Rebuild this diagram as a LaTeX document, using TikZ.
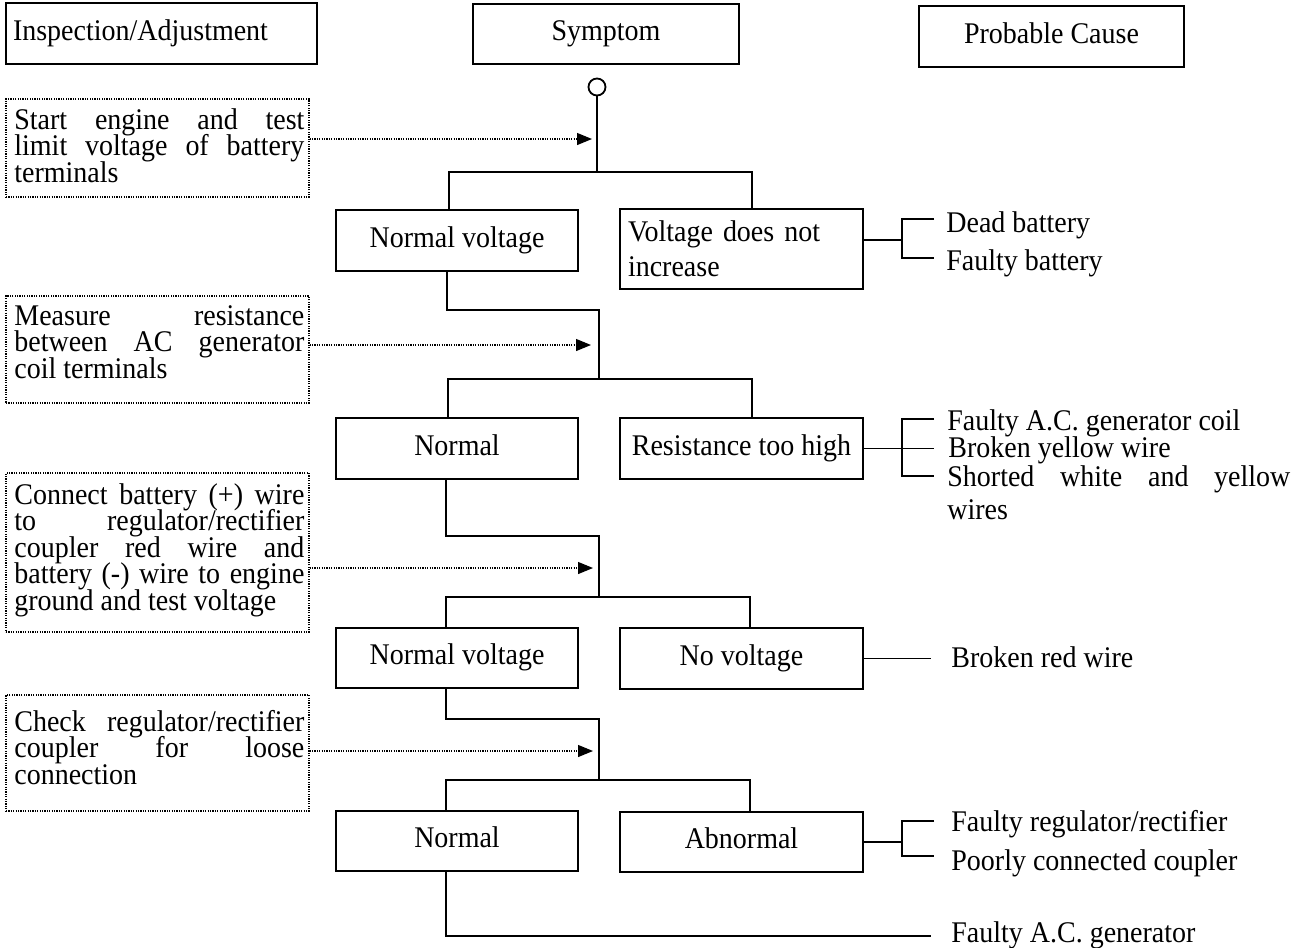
\documentclass[tikz,border=0pt]{standalone}
\usepackage{fontspec}
\setmainfont{Liberation Serif}[FakeStretch=0.933]
\usetikzlibrary{arrows.meta}
\newcommand\myfs{\fontsize{15pt}{13.25pt}\selectfont\lineskiplimit=-20pt}
\newcommand\jl[1]{\makebox[145pt][s]{#1}}
\newcommand\fstrut{\rule{0pt}{11pt}}
\begin{document}
\begin{tikzpicture}[x=0.5pt,y=-0.5pt,
  every node/.style={font=\myfs},
  sbox/.style={draw, line width=0.9pt, inner sep=0pt, text height=9.6pt, text depth=3pt},
  dbox/.style={draw, line width=0.6pt, dash pattern=on 0.6pt off 0.6pt, inner sep=0pt},
  itext/.style={anchor=north west, inner sep=0pt, align=left},
  ctext/.style={anchor=base west, inner sep=0pt},
  link/.style={line width=0.9pt},
  arr/.style={line width=0.6pt, dash pattern=on 0.6pt off 0.6pt, -{Triangle[length=7.5pt,width=6pt]}}]
\useasboundingbox (0,0) rectangle (1308,948);
% headers
\node[sbox, text width=148.5pt, inner xsep=3.5pt, align=left, minimum height=30.5pt] (hia) at (161.5,33.5) {Inspection/Adjustment};
\node[sbox, minimum width=133pt, minimum height=30pt] (hs) at (606,34) {Symptom};
\node[sbox, minimum width=132.5pt, minimum height=30.5pt] (hpc) at (1051.5,36.5) {Probable Cause};
\node[draw, circle, line width=0.9pt, minimum size=8.5pt, inner sep=0pt] (start) at (597,87) {};
% inspection boxes
\node[dbox, minimum width=151.5pt, minimum height=49pt] (d1) at (157.5,148) {};
\node[itext] (d1t) at (14,107) {\fstrut\jl{Start engine and test}\\\jl{limit voltage of battery}\\terminals};
\node[dbox, minimum width=151.5pt, minimum height=53.5pt] (d2) at (157.5,349.5) {};
\node[itext] (d2t) at (14,303) {\fstrut\jl{Measure resistance}\\\jl{between AC generator}\\coil terminals};
\node[dbox, minimum width=151.5pt, minimum height=79.5pt] (d3) at (157.5,552.5) {};
\node[itext] (d3t) at (14,482) {\fstrut\jl{Connect battery (+) wire}\\\jl{to regulator/rectifier}\\\jl{coupler red wire and}\\\jl{battery (-) wire to engine}\\ground and test voltage};
\node[dbox, minimum width=151.5pt, minimum height=58pt] (d4) at (157.5,753) {};
\node[itext] (d4t) at (14,709) {\fstrut\jl{Check regulator/rectifier}\\\jl{coupler for loose}\\connection};
% symptom boxes
\node[sbox, minimum width=121pt, minimum height=30.5pt] (nv1) at (457,240.5) {Normal voltage};
\node[draw, line width=0.9pt, inner xsep=4pt, inner ysep=0pt, text width=113.5pt, align=left, minimum height=40pt, font=\fontsize{15pt}{17.5pt}\selectfont] (vd) at (741.5,249) {Voltage does not\\increase};
\node[sbox, minimum width=121pt, minimum height=30.5pt] (n2) at (457,448.5) {Normal};
\node[sbox, minimum width=121.5pt, minimum height=30.5pt] (rh) at (741.5,448.5) {Resistance too high};
\node[sbox, minimum width=121pt, minimum height=30pt] (nv3) at (457,658) {Normal voltage};
\node[sbox, minimum width=121.5pt, minimum height=30.5pt] (nov) at (741.5,658.5) {No voltage};
\node[sbox, minimum width=121pt, minimum height=30pt] (n4) at (457,841) {Normal};
\node[sbox, minimum width=121.5pt, minimum height=30pt] (ab) at (741.5,842) {Abnormal};
% causes
\node[ctext] (db) at (946,232) {Dead battery};
\node[ctext] (fb) at (946,270) {Faulty battery};
\node[ctext] (fgc) at (947,430) {Faulty A.C. generator coil};
\node[ctext] (byw) at (948,457) {Broken yellow wire};
\node[itext, font=\fontsize{15pt}{16.5pt}\selectfont] (swy) at (947,464) {\fstrut\makebox[171.5pt][s]{Shorted white and yellow}\\wires};
\node[ctext] (brw) at (951,667) {Broken red wire};
\node[ctext] (frr) at (951,831) {Faulty regulator/rectifier};
\node[ctext] (pcc) at (951,870) {Poorly connected coupler};
\node[ctext] (fag) at (951,942) {Faulty A.C. generator};
% level 1
\coordinate (t1) at (597,172);
\coordinate (b1l) at (449,172);
\coordinate (b1r) at (752,172);
\coordinate (a1) at (592,139);
\draw[link] (start) -- (t1);
\draw[link] (b1l |- nv1.north) -- (b1l) -- (b1r) -- (b1r |- vd.north);
\draw[arr] (d1.east |- a1) -- (a1);
% level 2
\coordinate (j2) at (447,310);
\coordinate (k2) at (599,310);
\coordinate (b2l) at (448,379);
\coordinate (b2r) at (752,379);
\coordinate (a2) at (591,345);
\draw[link] (j2 |- nv1.south) -- (j2) -- (k2) -- (k2 |- b2l);
\draw[link] (b2l |- n2.north) -- (b2l) -- (b2r) -- (b2r |- rh.north);
\draw[arr] (d2.east |- a2) -- (a2);
% level 3
\coordinate (j3) at (446,536);
\coordinate (k3) at (599,536);
\coordinate (b3l) at (446,597);
\coordinate (b3r) at (750,597);
\coordinate (a3) at (593,568);
\draw[link] (j3 |- n2.south) -- (j3) -- (k3) -- (k3 |- b3l);
\draw[link] (b3l |- nv3.north) -- (b3l) -- (b3r) -- (b3r |- nov.north);
\draw[arr] (d3.east |- a3) -- (a3);
% level 4
\coordinate (j4) at (446,719);
\coordinate (k4) at (599,719);
\coordinate (b4l) at (446,780);
\coordinate (b4r) at (750,780);
\coordinate (a4) at (593,751);
\draw[link] (j4 |- nv3.south) -- (j4) -- (k4) -- (k4 |- b4l);
\draw[link] (b4l |- n4.north) -- (b4l) -- (b4r) -- (b4r |- ab.north);
\draw[arr] (d4.east |- a4) -- (a4);
% end
\coordinate (j5) at (446,936);
\coordinate (e5) at (931,936);
\draw[link] (j5 |- n4.south) -- (j5) -- (e5);
% cause brackets
\coordinate (v1) at (902,240);
\coordinate (v1a) at (902,219);
\coordinate (v1b) at (902,258);
\coordinate (s1a) at (934,219);
\coordinate (s1b) at (934,258);
\draw[link] ([yshift=4.5pt]vd.east) -- (v1);
\draw[link] (s1a) -- (v1a) -- (v1b) -- (s1b);
\coordinate (v2a) at (902,419);
\coordinate (v2b) at (902,476);
\coordinate (s2a) at (934,419);
\coordinate (s2m) at (934,450);
\coordinate (s2b) at (934,476);
\draw[link] (rh.east) -- (rh.east -| s2m);
\draw[link] (s2a) -- (v2a) -- (v2b) -- (s2b);
\coordinate (e3) at (931,657);
\draw[link] (nov.east) -- (nov.east -| e3);
\coordinate (v4) at (902,842);
\coordinate (v4a) at (902,821);
\coordinate (v4b) at (902,856);
\coordinate (s4a) at (934,821);
\coordinate (s4b) at (934,856);
\draw[link] (ab.east) -- (v4);
\draw[link] (s4a) -- (v4a) -- (v4b) -- (s4b);
\end{tikzpicture}
\end{document}
